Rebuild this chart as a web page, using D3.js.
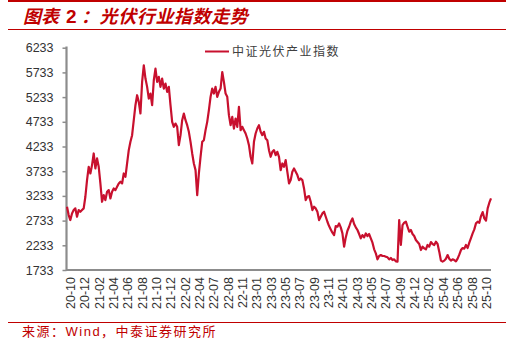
<!DOCTYPE html>
<html><head><meta charset="utf-8">
<script src="https://cdn.jsdelivr.net/npm/d3@7"></script>
<style>body{margin:0;background:#fff;} svg{display:block;}</style>
</head><body><svg id="c" width="513" height="342"></svg>
<script>
// ---- data ----
const xLabels = ["20-10","20-12","21-02","21-04","21-06","21-08","21-10","21-12","22-02","22-04",
  "22-07","22-08","22-11","23-01","23-03","23-05","23-07","23-09","23-11","24-01",
  "24-03","24-05","24-07","24-09","24-12","25-02","25-04","25-06","25-08","25-10"];
const yTicks = [1733,2233,2733,3233,3733,4233,4733,5233,5733,6233];
const seriesName = "中证光伏产业指数";
const values2020_2021 = [3013,2845,2744,2878,2946,2980,2811,2946,2912,2946,
  2980,3216,3553,3822,3687,3856,4092,3788,3991,3822,
  3485,3114,3249,3148,3317,3350,3182,3317,3384,3350,
  3418,3485,3519,3485,3687,3620,3890,4159,4328,4462,
  4766,5069,5271,5136,4901,5541,5878,5608,5440,5204,
  5305,5069,5574,5810,5541,5642,5440,5608,5406,5507,
  5339,5440,5069,4732];
const values2022 = [4631,4698,4631,4260,4463,4766,4901,4766,4665,4530,
  4328,4092,3890,3755,3249,3687,4025,4328,4361,4564,
  4732,4968,5238,5406,5305,5440,5238,5339,5406,5740,
  5541,5305,5238,4867,4665,4833,4597,4800,4631,5035,
  4564,4631,4564,4496,4395,4260,4025,3890,4328,4496,
  4597,4665,4530,4463,4530,4395,4361,4159,4025,4126,
  4159,4058];
const values2023 = [4126,4024,3755,3890,3822,3957,3721,3485,3553,3721,
  3789,3721,3654,3553,3586,3553,3384,3148,3216,3229,
  3115,2946,3013,2980,2912,2744,2811,2879,2912,2811,
  2710,2623,2555,2488,2441,2623,2609,2677,2596,2474,
  2205,2393,2528,2609,2710,2778,2663,2596,2542,2461,
  2373,2441,2393,2474,2420,2461,2373,2286,2151,2070,
  1948,2016,2036,2016];
const values2024_2025 = [2016,2003,1989,1949,1976,1935,1949,1908,1902,2744,
  2239,2643,2690,2711,2609,2508,2542,2461,2421,2340,
  2299,2259,2137,2205,2171,2151,2239,2205,2299,2259,
  2239,2306,2259,2104,1922,1902,1922,1962,2036,1962,
  1922,1949,1935,1908,1962,2043,2137,2178,2165,2239,
  2178,2286,2380,2475,2555,2677,2711,2690,2825,2906,
  2778,2731,2980,3095,3182];
const values = [].concat(values2020_2021, values2022, values2023, values2024_2025);

// ---- drawing ----
const svg = d3.select("#c");
const RED = "#c00000", LINE = "#c8102e", AXIS = "#8c8c8c";

// header / footer rules
svg.append("line").attr("x1",8).attr("x2",506).attr("y1",1).attr("y2",1).attr("stroke",RED).attr("stroke-width",2);
svg.append("line").attr("x1",8).attr("x2",506).attr("y1",29.5).attr("y2",29.5).attr("stroke",RED).attr("stroke-width",1);
svg.append("line").attr("x1",8).attr("x2",506).attr("y1",322.5).attr("y2",322.5).attr("stroke",RED).attr("stroke-width",1);

const title = svg.append("text").attr("y",23).attr("fill",RED)
  .attr("font-family","'Noto Sans CJK SC', sans-serif").attr("font-size",18).attr("font-weight","bold");
title.append("tspan").attr("x",23).attr("font-style","italic").text("图表");
title.append("tspan").attr("x",66).attr("font-family","'Liberation Sans', Arial, sans-serif").attr("font-size",19).text("2");
title.append("tspan").attr("x",81).attr("font-style","italic").attr("letter-spacing",0.6).text("：光伏行业指数走势");

svg.append("text").attr("x",22).attr("y",335.5).attr("fill",RED)
  .attr("font-family","'Liberation Sans', 'Noto Sans CJK SC', sans-serif").attr("font-size",13)
  .attr("letter-spacing",1.5).text("来源：Wind，中泰证券研究所");

// scales
const x = d3.scaleLinear().domain([0, values.length-1]).range([67, 491]);
const y = d3.scaleLinear().domain([1733, 6233]).range([270, 47.7]);
const xl = d3.scalePoint().domain(xLabels).range([70, 486]);

// y axis
const gy = svg.append("g").attr("transform","translate(66.5,0)")
  .call(d3.axisLeft(y).tickValues(yTicks).tickSize(4).tickPadding(9).tickFormat(d3.format("d")));
gy.select(".domain").attr("stroke",AXIS).attr("stroke-width",2.2).attr("d","M0,46.5V270");
gy.selectAll(".tick line").attr("stroke",AXIS).attr("stroke-width",1.5);
gy.selectAll(".tick text").attr("fill","#333").attr("font-size",12.5).attr("font-family","'Liberation Sans', Arial, sans-serif");

// x axis
const gx = svg.append("g").attr("transform","translate(0,270)")
  .call(d3.axisBottom(xl).tickSize(0).tickPadding(0));
gx.select(".domain").attr("stroke",AXIS).attr("stroke-width",2.2).attr("d","M66,0H491");
gx.selectAll(".tick text").attr("fill","#333").attr("font-size",12.5).attr("font-family","'Liberation Sans', Arial, sans-serif")
  .attr("text-anchor","end").attr("dy","0.35em").attr("y",0)
  .attr("transform","translate(0,7) rotate(-90)");

// line
svg.append("path").datum(values)
  .attr("fill","none").attr("stroke",LINE).attr("stroke-width",2.2).attr("stroke-linejoin","round")
  .attr("d", d3.line().x((d,i)=>x(i)).y(d=>y(d)));

// legend
svg.append("line").attr("x1",205).attr("x2",229).attr("y1",51.5).attr("y2",51.5).attr("stroke",LINE).attr("stroke-width",2);
svg.append("text").attr("x",232).attr("y",56).attr("fill","#404040")
  .attr("font-family","'Noto Sans CJK SC', sans-serif").attr("font-size",12).attr("letter-spacing",1.5).text(seriesName);
</script></body></html>
